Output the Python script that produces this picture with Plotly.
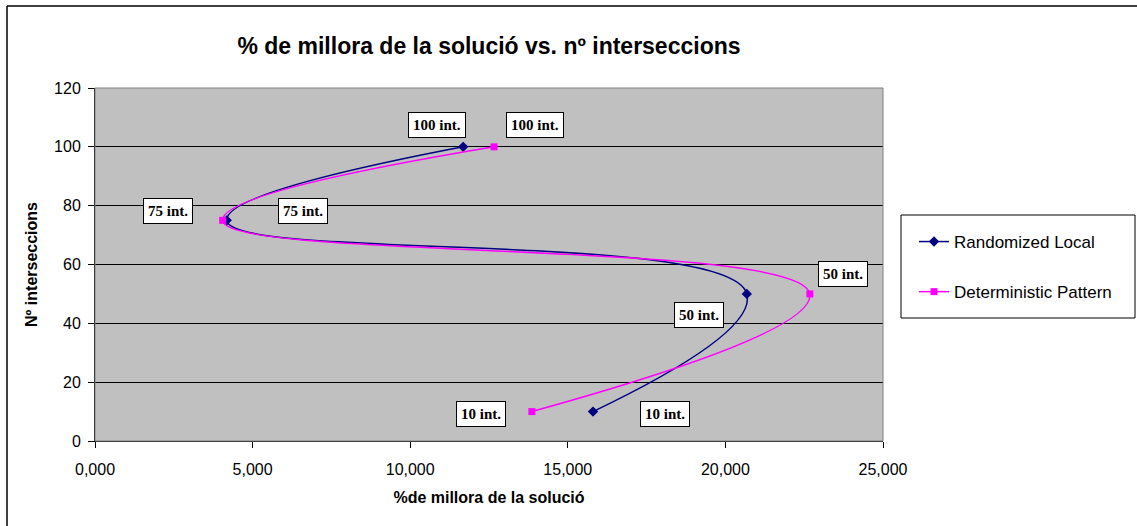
import plotly.graph_objects as go

# ---- data ----
series_names = ["Randomized Local", "Deterministic Pattern"]
intersections = [10, 50, 75, 100]
random_local = [15.80, 20.68, 4.18, 11.68]
deterministic = [13.86, 22.68, 4.05, 12.66]
point_labels = ["10 int.", "50 int.", "75 int.", "100 int."]
x_ticks = [0, 5, 10, 15, 20, 25]
y_ticks = [0, 20, 40, 60, 80, 100, 120]

# ---- layout geometry (pixels) ----
W_IMG, H_IMG = 1137, 526
L, R, T, B = 95, 883, 88, 441
PW, PH = R - L, B - T


def px(x):
    return (x - L) / PW


def py(y):
    return (B - y) / PH


fig = go.Figure()
fig.add_trace(go.Scatter(
    x=random_local, y=intersections, name=series_names[0], mode="lines+markers",
    line=dict(color="#000080", width=1.5, shape="spline", smoothing=1.3),
    marker=dict(symbol="diamond", size=8, color="#000080"),
    legendgroup="a",
))
fig.add_trace(go.Scatter(
    x=deterministic, y=intersections, name=series_names[1], mode="lines+markers",
    line=dict(color="#FF00FF", width=1.5, shape="spline", smoothing=1.3),
    marker=dict(symbol="square", size=7, color="#FF00FF"),
    legendgroup="b",
))

# label offsets (pixels) per point: random series, deterministic series
rand_off = [(72, -2), (-48, -21), (76, 9), (-26, 22)]
det_off = [(-51, -2), (33, 20), (-55, 9), (41, 22)]

annotations = []
for xs, offs in ((random_local, rand_off), (deterministic, det_off)):
    for xv, yv, lab, (dx, dy) in zip(xs, intersections, point_labels, offs):
        annotations.append(dict(
            x=xv, y=yv, xref="x", yref="y", text="<b>%s</b>" % lab,
            showarrow=False, xshift=dx, yshift=dy, xanchor="center", yanchor="middle",
            font=dict(family="Liberation Serif", size=15, color="black"),
            bgcolor="white", bordercolor="black", borderwidth=1, borderpad=4,
        ))

shapes = [
    # plot area border
    dict(type="rect", xref="paper", yref="paper", x0=0, x1=1, y0=0, y1=1,
         line=dict(color="#808080", width=1)),
    # legend box
    dict(type="rect", xref="paper", yref="paper", x0=px(901), x1=px(1135), y0=py(318), y1=py(215),
         line=dict(color="black", width=1), fillcolor="white", layer="below"),
    # outer chart border (left and top)
    dict(type="line", xref="paper", yref="paper", x0=px(7), x1=px(7), y0=py(6), y1=py(530),
         line=dict(color="black", width=1.5)),
    dict(type="line", xref="paper", yref="paper", x0=px(7), x1=px(1140), y0=py(6), y1=py(6),
         line=dict(color="black", width=1.5)),
]

fig.update_layout(
    width=W_IMG, height=H_IMG,
    margin=dict(l=L, r=W_IMG - R, t=T, b=H_IMG - B),
    paper_bgcolor="white", plot_bgcolor="#C0C0C0",
    separators=",.",
    font=dict(family="Liberation Sans", size=16, color="black"),
    title=dict(text="<b>% de millora de la solució vs. nº interseccions</b>",
               xref="paper", x=px(489), xanchor="center",
               yref="container", y=1 - 46 / H_IMG, yanchor="middle",
               font=dict(family="Liberation Sans", size=23, color="black")),
    xaxis=dict(range=[0, 25], tickvals=x_ticks, tickformat=".3f",
               showgrid=False, zeroline=False, showline=True, linecolor="black", linewidth=1,
               ticks="outside", ticklen=6, tickcolor="black", ticklabelstandoff=8,
               title=dict(text="<b>%de millora de la solució</b>", standoff=14,
                          font=dict(size=16))),
    yaxis=dict(range=[0, 120], tickvals=y_ticks,
               showgrid=True, gridcolor="black", gridwidth=1, zeroline=False,
               showline=True, linecolor="black", linewidth=1,
               ticks="outside", ticklen=6, tickcolor="black", ticklabelstandoff=4,
               title=dict(text="<b>Nº interseccions</b>", standoff=12, font=dict(size=16))),
    legend=dict(x=px(914), y=py(224), xanchor="left", yanchor="top",
                bgcolor="rgba(0,0,0,0)", borderwidth=0, tracegroupgap=25,
                traceorder="grouped", font=dict(size=17)),
    showlegend=True,
    annotations=annotations,
    shapes=shapes,
)

fig.write_html("out.html", config={"displayModeBar": False},
               post_script="document.body.style.margin='0';")
